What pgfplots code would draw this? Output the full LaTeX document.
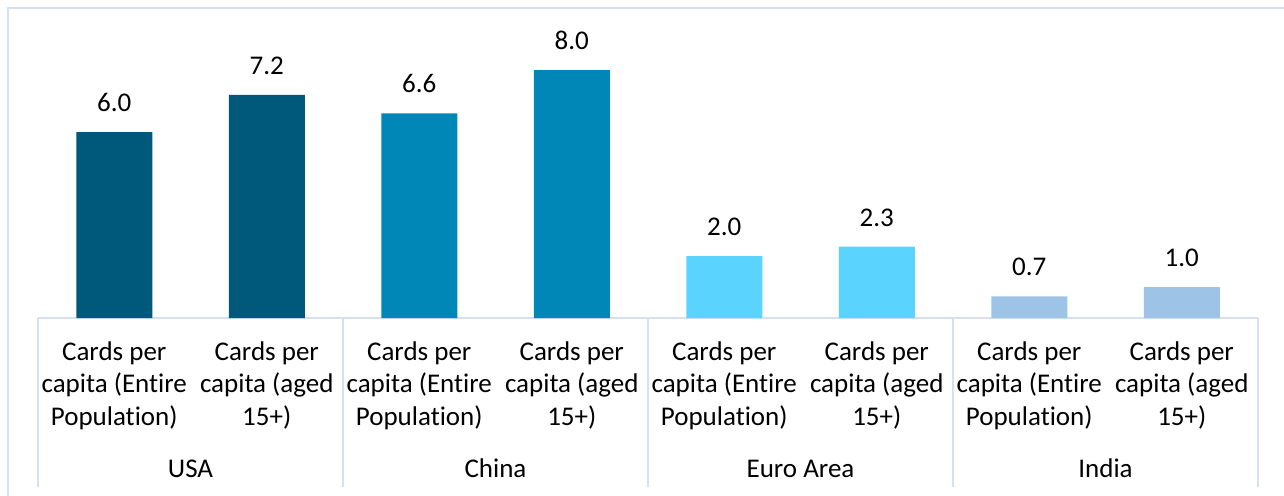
\documentclass[border=0pt]{standalone}
\usepackage{pgfplots}
\pgfplotsset{compat=1.18}
\usepackage{fontspec}
\setmainfont{Carlito}[Ligatures=NoCommon]
\definecolor{usac}{RGB}{0,88,122}
\definecolor{chic}{RGB}{0,135,183}
\definecolor{euroc}{RGB}{91,211,255}
\definecolor{indc}{RGB}{157,195,230}
\definecolor{bordc}{RGB}{214,224,241}
\newcommand{\lblfont}{\fontsize{13.5}{16.25}\selectfont}
\begin{document}
\begin{tikzpicture}
\useasboundingbox (-19pt,-88.5pt) rectangle (623pt,159pt);
\draw[bordc, line width=0.8pt] (-15pt,-90pt) -- (-15pt,155pt) -- (625pt,155pt);
\begin{axis}[
  at={(0pt,0pt)}, anchor=south west,
  x=76.25pt, y=15.5pt,
  xmin=-0.5, xmax=7.5, ymin=0, ymax=9,
  axis x line=bottom, axis y line=none,
  x axis line style={-, draw=bordc, line width=1pt},
  xtick={0,1,2,3,4,5,6,7},
  major tick length=0pt,
  xticklabels={{Cards per\\capita (Entire\\Population)},{Cards per\\capita (aged\\15+)},
               {Cards per\\capita (Entire\\Population)},{Cards per\\capita (aged\\15+)},
               {Cards per\\capita (Entire\\Population)},{Cards per\\capita (aged\\15+)},
               {Cards per\\capita (Entire\\Population)},{Cards per\\capita (aged\\15+)}},
  xticklabel style={align=center, anchor=north, inner sep=0pt, yshift=-11.5pt,
    font=\lblfont},
  clip=false,
  /pgf/number format/assume math mode=true,
  nodes near coords={\pgfmathprintnumber[fixed,fixed zerofill,precision=1]{\pgfplotspointmeta}},
  nodes near coords style={font=\lblfont, anchor=south, inner sep=0pt, yshift=10pt, text=black},
  every axis plot/.append style={ybar, bar width=38pt, bar shift=0pt, draw=none},
]
\addplot[fill=usac] coordinates {(0,6.0) (1,7.2)};
\addplot[fill=chic] coordinates {(2,6.6) (3,8.0)};
\addplot[fill=euroc] coordinates {(4,2.0) (5,2.3)};
\addplot[fill=indc] coordinates {(6,0.7) (7,1.0)};
\draw[bordc, line width=1pt] (axis cs:-0.5,0) -- ++(0pt,-84.5pt);
\draw[bordc, line width=1pt] (axis cs:1.5,0) -- ++(0pt,-84.5pt);
\draw[bordc, line width=1pt] (axis cs:3.5,0) -- ++(0pt,-84.5pt);
\draw[bordc, line width=1pt] (axis cs:5.5,0) -- ++(0pt,-84.5pt);
\draw[bordc, line width=1pt] (axis cs:7.5,0) -- ++(0pt,-84.5pt);
\node[anchor=base, font=\lblfont] at ([yshift=-79.5pt]axis cs:0.5,0) {USA};
\node[anchor=base, font=\lblfont] at ([yshift=-79.5pt]axis cs:2.5,0) {China};
\node[anchor=base, font=\lblfont] at ([yshift=-79.5pt]axis cs:4.5,0) {Euro Area};
\node[anchor=base, font=\lblfont] at ([yshift=-79.5pt]axis cs:6.5,0) {India};
\end{axis}
\end{tikzpicture}
\end{document}
